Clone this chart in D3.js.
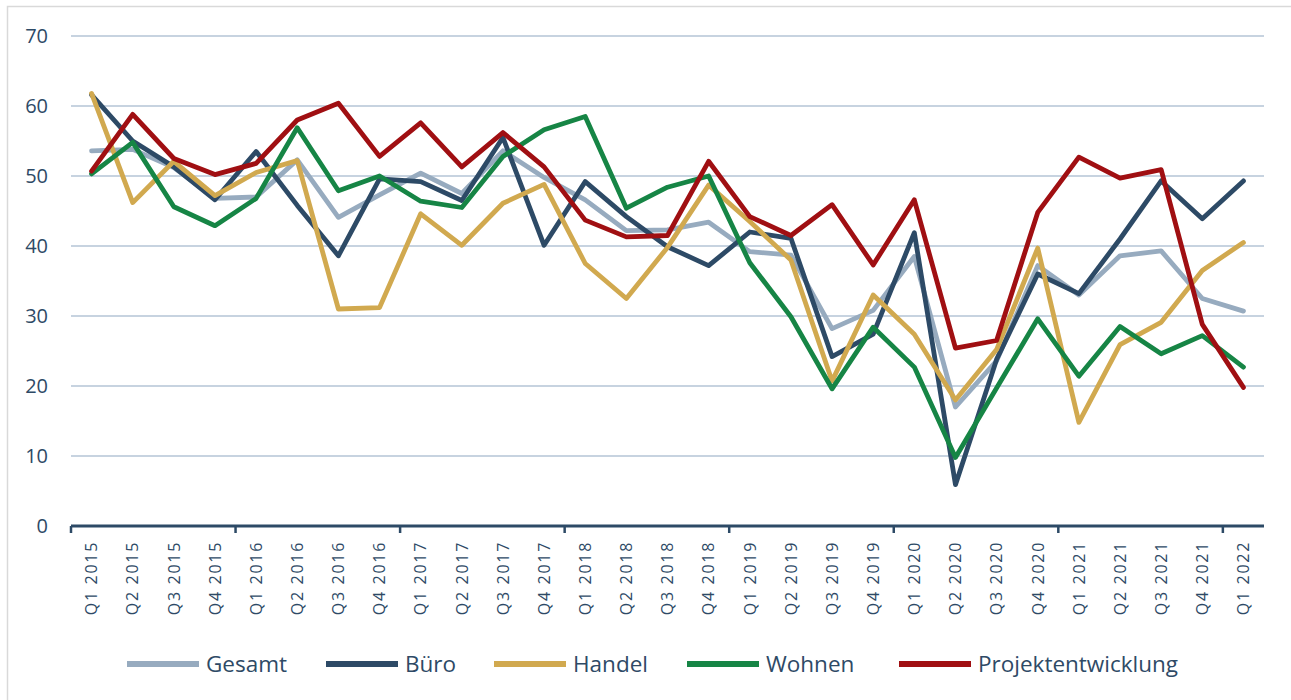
<!DOCTYPE html>
<html>
<head>
<meta charset="utf-8">
<script src="https://cdn.jsdelivr.net/npm/d3@7"></script>
<style>
  body { margin: 0; background: #fff; }
  text { font-family: "Open Sans", "Noto Sans", sans-serif; fill: #2e4a66; }
</style>
</head>
<body>
<div id="container"></div>
<script>
const quarters = ["Q1 2015","Q2 2015","Q3 2015","Q4 2015","Q1 2016","Q2 2016","Q3 2016","Q4 2016",
  "Q1 2017","Q2 2017","Q3 2017","Q4 2017","Q1 2018","Q2 2018","Q3 2018","Q4 2018",
  "Q1 2019","Q2 2019","Q3 2019","Q4 2019","Q1 2020","Q2 2020","Q3 2020","Q4 2020",
  "Q1 2021","Q2 2021","Q3 2021","Q4 2021","Q1 2022"]

const gesamt = [53.6,53.8,51.2,46.8,47.0,52.3,44.1,47.3,50.4,47.5,53.6,49.8,46.6,42.2,42.3,43.4,
  39.2,38.7,28.2,30.8,38.5,17.0,23.6,37.2,33.0,38.6,39.3,32.5,30.7]
const buero = [61.6,55.0,51.3,46.6,53.5,45.8,38.6,49.6,49.2,46.5,55.5,40.1,49.2,44.2,39.9,37.2,
  42.0,41.1,24.2,27.4,41.9,5.9,23.8,36.0,33.2,41.0,49.3,43.9,49.3]
const handel = [61.8,46.2,52.1,47.2,50.5,52.2,31.0,31.2,44.6,40.1,46.1,48.8,37.5,32.5,39.8,48.7,
  43.5,38.0,20.7,33.0,27.4,18.0,25.2,39.7,14.8,25.9,29.1,36.5,40.5]
const wohnen = [50.3,54.8,45.6,42.9,46.8,56.9,47.9,50.0,46.4,45.5,52.8,56.6,58.5,45.4,48.4,50.0,
  37.6,29.9,19.6,28.4,22.7,9.8,19.7,29.6,21.4,28.5,24.6,27.2,22.7]
const projekt = [50.7,58.8,52.5,50.2,51.8,58.0,60.4,52.8,57.6,51.3,56.2,51.3,43.7,41.3,41.5,52.1,
  44.2,41.5,45.9,37.3,46.6,25.4,26.5,44.8,52.7,49.7,50.9,28.8,19.8]

const seriesNames = ["Gesamt","Büro","Handel","Wohnen","Projektentwicklung"]
const seriesValues = [gesamt, buero, handel, wohnen, projekt]
const colors = ["#97abbf","#2d4a66","#d1a94f","#168545","#a00f12"]
const yTicks = [0,10,20,30,40,50,60,70]

const W = 1291, H = 700
const plotL = 71, plotR = 1264, plotT = 36, plotB = 526

const svg = d3.select("#container").append("svg")
  .attr("width", W).attr("height", H)

svg.append("rect")
  .attr("x", 7.5).attr("y", 6.5)
  .attr("width", W).attr("height", H)
  .attr("fill", "none").attr("stroke", "#d9d9d9").attr("stroke-width", 1.5)

const x = d3.scaleBand().domain(quarters).range([plotL, plotR]).padding(0)
const y = d3.scaleLinear().domain([0, 70]).range([plotB, plotT])
const cx = d => x(d) + x.bandwidth() / 2

// gridlines
svg.append("g")
  .selectAll("line").data(yTicks.filter(t => t > 0)).join("line")
  .attr("x1", plotL).attr("x2", plotR)
  .attr("y1", d => y(d)).attr("y2", d => y(d))
  .attr("stroke", "#b4c5d6").attr("stroke-width", 1.5)

// y labels
svg.append("g")
  .selectAll("text").data(yTicks).join("text")
  .attr("x", 48).attr("y", d => y(d))
  .attr("dy", "0.36em")
  .attr("text-anchor", "end")
  .attr("font-size", 20)
  .text(d => d)

// series
const line = d3.line()
  .x((d, i) => cx(quarters[i]))
  .y(d => y(d))

seriesValues.forEach((vals, k) => {
  svg.append("path")
    .datum(vals)
    .attr("d", line)
    .attr("fill", "none")
    .attr("stroke", colors[k])
    .attr("stroke-width", 4.8)
    .attr("stroke-linejoin", "round")
    .attr("stroke-linecap", "round")
})

// x axis line + year ticks
svg.append("line")
  .attr("x1", plotL).attr("x2", plotR)
  .attr("y1", plotB).attr("y2", plotB)
  .attr("stroke", "#2d4a66").attr("stroke-width", 3)

const tickIdx = d3.range(0, quarters.length, 4)
svg.append("g")
  .selectAll("line").data(tickIdx).join("line")
  .attr("x1", i => x(quarters[i])).attr("x2", i => x(quarters[i]))
  .attr("y1", plotB).attr("y2", plotB + 7)
  .attr("stroke", "#2d4a66").attr("stroke-width", 2.5)

// x labels
svg.append("g")
  .selectAll("text").data(quarters).join("text")
  .attr("transform", d => `translate(${cx(d)},${plotB + 15}) rotate(-90)`)
  .attr("dy", "0.36em")
  .attr("text-anchor", "end")
  .attr("font-size", 16)
  .attr("letter-spacing", 1.7)
  .text(d => d)

// legend
const legendX = [127, 326, 494, 687, 899]
const legendY = 664
const lg = svg.append("g")
seriesNames.forEach((name, k) => {
  lg.append("line")
    .attr("x1", legendX[k]).attr("x2", legendX[k] + 72)
    .attr("y1", legendY).attr("y2", legendY)
    .attr("stroke", colors[k]).attr("stroke-width", 6)
  lg.append("text")
    .attr("x", legendX[k] + 79).attr("y", legendY)
    .attr("dy", "0.36em")
    .attr("font-size", 22.5)
    .text(name)
})
</script>
</body>
</html>
